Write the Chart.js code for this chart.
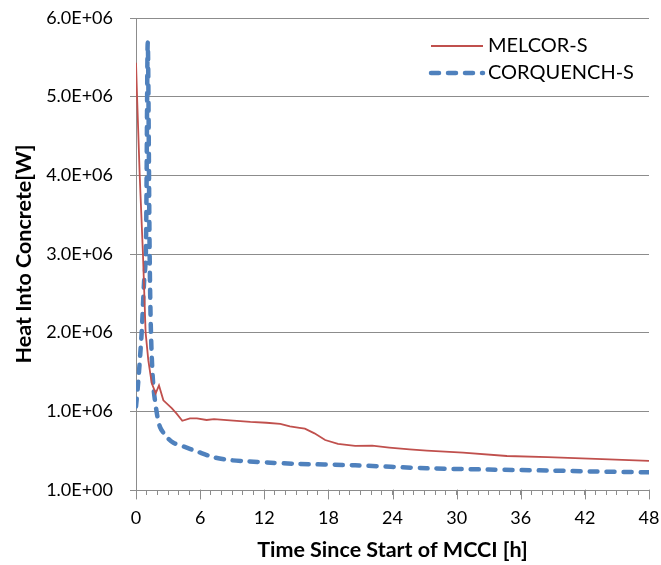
<!DOCTYPE html>
<html lang="en">
<head>
  <meta charset="UTF-8" />
  <title>Heat Into Concrete</title>
  <style>
    body {
      margin: 0;
      padding: 0;
      background: #fff;
    }
    #chart {
      display: block;
    }
  </style>
</head>
<body>
  <canvas id="chart" width="661" height="565"></canvas>

  <script src="https://cdn.jsdelivr.net/npm/chart.js"></script>
  <script>
    // time [h] and heat into concrete [W]
    const melcorT = [0, 0.1, 0.35, 0.65, 0.9, 1.15, 1.47, 1.84, 2.15, 2.56, 3.34, 3.8, 4.33, 5.05, 5.7, 6.6, 7.3, 8.8, 10.7, 12.2, 13.5, 14.4, 15.3, 15.8, 16.7, 17.7, 18.9, 20.5, 22.1, 23.7, 25.6, 27.2, 30.6, 34.7, 38.5, 43, 48];
    const melcorQ = [5.43e6, 5.0e6, 3.99e6, 3.0e6, 2.0e6, 1.65e6, 1.36e6, 1.23e6, 1.33e6, 1.14e6, 1.04e6, 0.97e6, 0.88e6, 0.91e6, 0.91e6, 0.89e6, 0.90e6, 0.885e6, 0.865e6, 0.855e6, 0.84e6, 0.81e6, 0.79e6, 0.78e6, 0.72e6, 0.635e6, 0.585e6, 0.56e6, 0.563e6, 0.54e6, 0.517e6, 0.50e6, 0.474e6, 0.432e6, 0.418e6, 0.395e6, 0.37e6];

    const corqT = [0, 0.2, 0.53, 0.75, 0.92, 1.1, 1.28, 1.4, 1.6, 1.9, 2.25, 2.9, 3.5, 4.5, 5.7, 7.3, 8.8, 10.4, 12.6, 14.7, 20.5, 27.2, 33, 38.5, 43, 48];
    const corqQ = [1.06e6, 1.36e6, 2.0e6, 2.63e6, 2.96e6, 5.69e6, 2.96e6, 2.0e6, 1.36e6, 1.02e6, 0.80e6, 0.67e6, 0.60e6, 0.55e6, 0.49e6, 0.415e6, 0.38e6, 0.365e6, 0.347e6, 0.334e6, 0.314e6, 0.276e6, 0.26e6, 0.248e6, 0.235e6, 0.225e6];

    const seriesNames = ["MELCOR-S", "CORQUENCH-S"];
    const xTickLabels = ["0", "6", "12", "18", "24", "30", "36", "42", "48"];
    const yTickLabels = ["1.0E+00", "1.0E+06", "2.0E+06", "3.0E+06", "4.0E+06", "5.0E+06", "6.0E+06"];

    const toPoints = (xs, ys) => xs.map((x, i) => ({ x: x, y: ys[i] }));
    const fontFamily = "Lato, 'Liberation Sans', sans-serif";
    const gridGray = "#8c8c8c";

    // legend in the top right corner of the plot, like the original
    const cornerLegend = {
      id: "cornerLegend",
      afterDraw(chart) {
        const ctx = chart.ctx;
        const area = chart.chartArea;
        ctx.save();
        ctx.font = "20px " + fontFamily;
        ctx.textBaseline = "middle";
        ctx.fillStyle = "#000";
        chart.data.datasets.forEach((ds, i) => {
          const y = area.top + 28 + i * 27;
          ctx.beginPath();
          ctx.strokeStyle = ds.borderColor;
          ctx.lineWidth = ds.borderWidth;
          ctx.lineCap = ds.borderCapStyle || "butt";
          ctx.setLineDash(ds.borderDash || []);
          ctx.moveTo(area.right - 218, y);
          ctx.lineTo(area.right - 166, y);
          ctx.stroke();
          ctx.setLineDash([]);
          ctx.fillText(ds.label, area.right - 161, y);
        });

        // longer tick marks under every labelled hour
        const xs = chart.scales.x;
        ctx.strokeStyle = gridGray;
        ctx.lineWidth = 1;
        xTickLabels.forEach(lbl => {
          const px = Math.round(xs.getPixelForValue(Number(lbl))) + 0.5;
          ctx.beginPath();
          ctx.moveTo(px, area.bottom);
          ctx.lineTo(px, area.bottom + 9);
          ctx.stroke();
        });
        ctx.restore();
      }
    };

    new Chart(document.getElementById("chart").getContext("2d"), {
      type: "line",
      data: {
        datasets: [{
          label: seriesNames[0],
          data: toPoints(melcorT, melcorQ),
          borderColor: "#C0504D",
          borderWidth: 1.8,
          pointRadius: 0,
          tension: 0,
          fill: false
        }, {
          label: seriesNames[1],
          data: toPoints(corqT, corqQ),
          borderColor: "#4F81BD",
          borderWidth: 4.5,
          borderDash: [8, 9],
          borderCapStyle: "round",
          pointRadius: 0,
          tension: 0.3,
          fill: false
        }]
      },
      options: {
        responsive: false,
        animation: false,
        layout: { padding: { top: 18, right: 12, left: 0, bottom: 0 } },
        plugins: {
          legend: { display: false },
          tooltip: { enabled: false }
        },
        scales: {
          x: {
            type: "linear",
            min: 0,
            max: 48,
            afterFit: scale => {
              scale.height = 75;
              scale.paddingRight = 0; // label overhang is covered by layout padding
            },
            border: { color: gridGray },
            grid: { drawOnChartArea: false, color: gridGray, tickLength: 5 },
            ticks: {
              stepSize: 1,
              autoSkip: false,
              maxRotation: 0,
              padding: 12,
              color: "#000",
              font: { family: fontFamily, size: 18 },
              callback: v => (v % 6 === 0 ? xTickLabels[v / 6] : "")
            },
            title: {
              display: true,
              text: "Time Since Start of MCCI [h]",
              color: "#000",
              font: { family: fontFamily, size: 21.5, weight: "bold" },
              padding: { top: 0, bottom: 2 }
            }
          },
          y: {
            min: 0,
            max: 6e6,
            afterFit: scale => {
              scale.width = 136;
              scale.paddingTop = 0;
            },
            border: { color: gridGray },
            grid: { color: gridGray, tickLength: 6 },
            ticks: {
              stepSize: 1e6,
              padding: 17,
              color: "#000",
              font: { family: fontFamily, size: 18 },
              callback: v => yTickLabels[Math.round(v / 1e6)]
            },
            title: {
              display: true,
              text: "Heat Into Concrete[W]",
              color: "#000",
              font: { family: fontFamily, size: 21.5, weight: "bold" },
              padding: { top: 11, bottom: 0 }
            }
          }
        }
      },
      plugins: [cornerLegend]
    });
  </script>
</body>
</html>
